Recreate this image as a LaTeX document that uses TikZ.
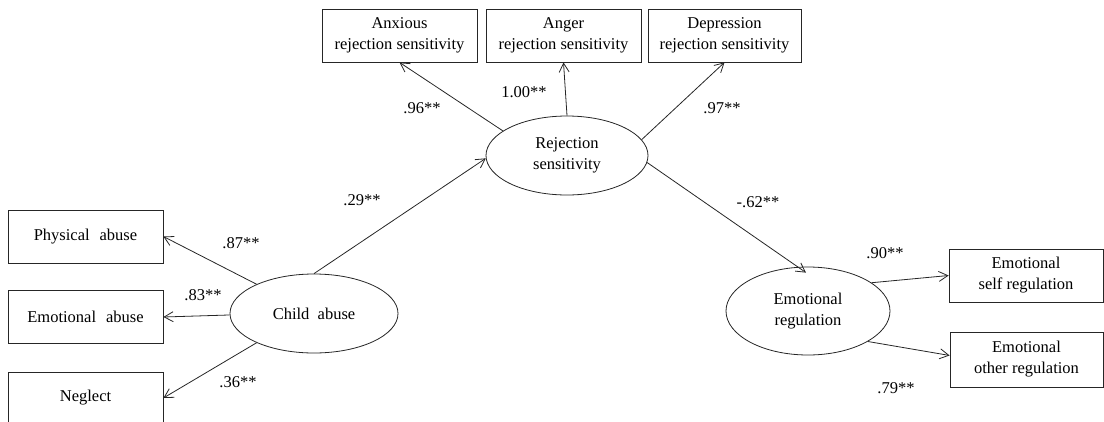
\documentclass[tikz,border=0pt]{standalone}
\usepackage{fontspec}
\setmainfont{Liberation Serif}
\usetikzlibrary{arrows.meta,calc,shapes.geometric}
\begin{document}
\begin{tikzpicture}[x=1pt,y=-1pt,
  every node/.style={text=black},
  box/.style={draw=black!85, line width=0.8pt, minimum width=155pt, minimum height=53pt, inner sep=0pt, align=center, font=\fontsize{16.5}{21}\selectfont},
  lat/.style={draw=black!85, ellipse, line width=0.8pt, inner sep=0pt, align=center, font=\fontsize{16.5}{21}\selectfont},
  arr/.style={draw=black!85, line width=0.8pt, -{Straight Barb[length=9pt,width=10pt]}},
  lbl/.style={font=\fontsize{16.5}{19}\selectfont, inner sep=0pt}]
\clip (0,0) rectangle (1104,421);
% observed variables
\node[box] (phys) at (85.5,236.5) {Physical\hspace{0.6em}abuse};
\node[box] (emo) at (85.5,317) {Emotional\hspace{0.6em}abuse};
\node[box, minimum height=52pt] (neg) at (85.5,398) {Neglect};
\node[box] (anx) at (399.5,35.5) {Anxious\\rejection sensitivity};
\node[box] (ang) at (563.5,35.5) {Anger\\rejection sensitivity};
\node[box, minimum width=153pt] (dep) at (724.5,35.5) {Depression\\rejection sensitivity};
\node[box, minimum width=154pt] (self) at (1026,275.5) {Emotional\\self regulation};
\node[box, minimum width=153pt, minimum height=55pt] (other) at (1026.5,359.5) {Emotional\\other regulation};
% latent variables
\node[lat, minimum width=168pt, minimum height=79pt] (ca) at (314,313.5) {Child\hspace{0.5em}abuse};
\node[lat, minimum width=162pt, minimum height=79pt] (rs) at (567,155.5) {Rejection\\sensitivity};
\node[lat, minimum width=164pt, minimum height=88pt] (er) at (808,311) {Emotional\\regulation};
% paths
\draw[arr] (ca.153) -- (phys.east);
\draw[arr] (ca.181) -- (emo.east);
\draw[arr] (ca.207) -- (neg.east);
\draw[arr] (ca.north) -- (rs.182);
\draw[arr] (rs.159) -- (anx.south);
\draw[arr] (rs.north) -- (ang.south);
\draw[arr] (rs.12) -- (dep.south);
\draw[arr] (rs.355) -- ($(er.north)+(-2,6)$);
\draw[arr] (er.24) -- (self.west);
\draw[arr] (er.333) -- (other.177);
% coefficients
\node[lbl] (l1) at (241,243) {.87**};
\node[lbl] (l2) at (203,295) {.83**};
\node[lbl] (l3) at (238,382) {.36**};
\node[lbl] (l4) at (362,200) {.29**};
\node[lbl] (l5) at (422,108) {.96**};
\node[lbl] (l6) at (524,92) {1.00**};
\node[lbl] (l7) at (722,108) {.97**};
\node[lbl] (l8) at (758,202) {-.62**};
\node[lbl] (l9) at (885,253) {.90**};
\node[lbl] (l10) at (896,388) {.79**};
\end{tikzpicture}
\end{document}
